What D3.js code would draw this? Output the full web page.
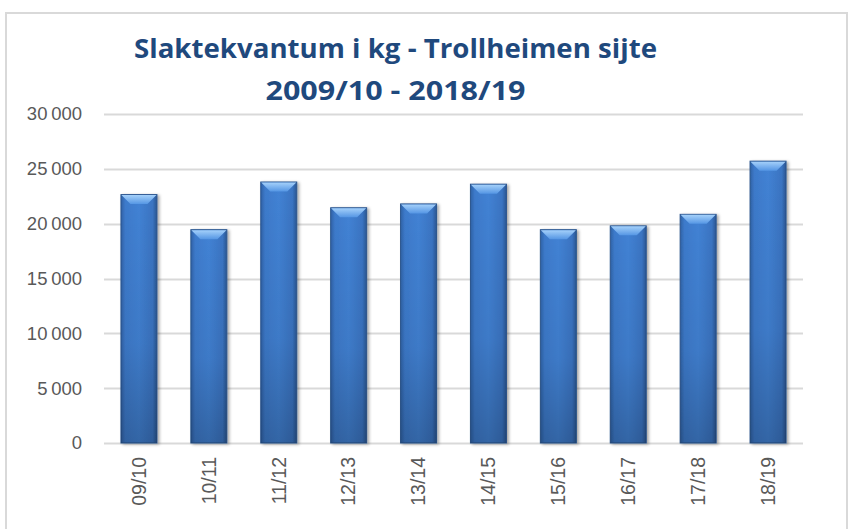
<!DOCTYPE html>
<html>
<head>
<meta charset="utf-8">
<script src="https://cdn.jsdelivr.net/npm/d3@7"></script>
<style>
  body { margin: 0; background: #fff; }
  svg { display: block; }
</style>
</head>
<body>
<svg id="chart"></svg>
<script>
// Slaktekvantum i kg - Trollheimen sijte
const seasons = ['09/10', '10/11', '11/12', '12/13', '13/14', '14/15', '15/16', '16/17', '17/18', '18/19'];
const kilos = [22650, 19450, 23800, 21450, 21800, 23600, 19450, 19800, 20850, 25700];
const yTicks = [0, 5000, 10000, 15000, 20000, 25000, 30000];
const titleLines = ['Slaktekvantum i kg - Trollheimen sijte', '2009/10 - 2018/19'];

const width = 851, height = 529;
const margin = {top: 114, right: 48, bottom: 86, left: 104};

const svg = d3.select('#chart')
    .attr('width', width)
    .attr('height', height);

const locale = d3.formatLocale({decimal: ',', thousands: '\u2009', grouping: [3], currency: ['', ' kr']});
const fmt = locale.format(',d');

// gradients for the bevelled bars
const defs = svg.append('defs');
const body = defs.append('linearGradient').attr('id', 'barBody')
    .attr('x1', 0).attr('x2', 1).attr('y1', 0).attr('y2', 0);
body.append('stop').attr('offset', '0%').attr('stop-color', '#2f62a6');
body.append('stop').attr('offset', '12%').attr('stop-color', '#3d7acb');
body.append('stop').attr('offset', '50%').attr('stop-color', '#4282d4');
body.append('stop').attr('offset', '88%').attr('stop-color', '#3a74c2');
body.append('stop').attr('offset', '100%').attr('stop-color', '#2a5692');

const shade = defs.append('linearGradient').attr('id', 'barShade')
    .attr('x1', 0).attr('x2', 0).attr('y1', 0).attr('y2', 1);
shade.append('stop').attr('offset', '0%').attr('stop-color', '#000').attr('stop-opacity', 0);
shade.append('stop').attr('offset', '60%').attr('stop-color', '#000').attr('stop-opacity', 0.06);
shade.append('stop').attr('offset', '100%').attr('stop-color', '#000').attr('stop-opacity', 0.22);

const bevel = defs.append('linearGradient').attr('id', 'barBevel')
    .attr('x1', 0).attr('x2', 0).attr('y1', 0).attr('y2', 1);
bevel.append('stop').attr('offset', '0%').attr('stop-color', '#a4d0fa');
bevel.append('stop').attr('offset', '100%').attr('stop-color', '#5596e4');

const shadow = defs.append('filter').attr('id', 'barShadow')
    .attr('x', '-30%').attr('y', '-5%').attr('width', '160%').attr('height', '115%');
shadow.append('feDropShadow').attr('dx', 2).attr('dy', 1).attr('stdDeviation', 1.6)
    .attr('flood-color', '#000').attr('flood-opacity', 0.35);

// outer frame
svg.append('rect')
    .attr('x', 6).attr('y', 13)
    .attr('width', 841).attr('height', 520)
    .attr('fill', '#fff')
    .attr('stroke', '#d9d9d9')
    .attr('stroke-width', 2);

const x = d3.scaleBand()
    .domain(seasons)
    .range([margin.left, width - margin.right])
    .paddingInner(0.485)
    .paddingOuter(0.2425);

const y = d3.scaleLinear()
    .domain([0, 30000])
    .range([height - margin.bottom, margin.top]);

// gridlines
svg.append('g')
    .selectAll('line')
    .data(yTicks)
    .join('line')
    .attr('x1', margin.left)
    .attr('x2', width - margin.right)
    .attr('y1', d => Math.round(y(d)) + 0.5)
    .attr('y2', d => Math.round(y(d)) + 0.5)
    .attr('stroke', '#d9d9d9')
    .attr('stroke-width', 2);

// y axis labels
const yAxis = svg.append('g')
    .attr('transform', `translate(${margin.left - 22},0)`)
    .call(d3.axisLeft(y).tickValues(yTicks).tickFormat(d => fmt(d)).tickSize(0).tickPadding(0));
yAxis.select('.domain').remove();
yAxis.selectAll('text')
    .attr('fill', '#595959')
    .style('font-family', 'Liberation Sans, Arial, sans-serif')
    .style('font-size', '18.5px');

// bars
const bars = svg.append('g')
    .selectAll('g')
    .data(seasons.map((s, i) => ({season: s, value: kilos[i]})))
    .join('g');

bars.append('rect')
    .attr('x', d => x(d.season))
    .attr('y', d => y(d.value))
    .attr('width', x.bandwidth())
    .attr('height', d => y(0) - y(d.value))
    .attr('fill', 'url(#barBody)')
    .attr('stroke', '#2b568f')
    .attr('stroke-width', 1)
    .attr('filter', 'url(#barShadow)');

bars.append('rect')
    .attr('x', d => x(d.season))
    .attr('y', d => y(d.value))
    .attr('width', x.bandwidth())
    .attr('height', d => y(0) - y(d.value))
    .attr('fill', 'url(#barShade)');

const bv = 9;
bars.append('path')
    .attr('d', d => {
        const x0 = x(d.season) + 0.5, x1 = x(d.season) + x.bandwidth() - 0.5, y0 = y(d.value) + 0.5;
        return `M${x0},${y0}L${x1},${y0}L${x1 - bv},${y0 + bv}L${x0 + bv},${y0 + bv}Z`;
    })
    .attr('fill', 'url(#barBevel)');

// x axis labels
const xAxis = svg.append('g')
    .attr('transform', `translate(0,${y(0)})`)
    .call(d3.axisBottom(x).tickSize(0).tickPadding(0));
xAxis.select('.domain').remove();
xAxis.selectAll('text')
    .attr('fill', '#595959')
    .style('font-family', 'Liberation Sans, Arial, sans-serif')
    .style('font-size', '19.5px')
    .attr('text-anchor', 'end')
    .attr('dy', '0.35em')
    .attr('transform', 'translate(0,14) rotate(-90)')
    .attr('y', 0)
    .attr('x', 0);

// title
svg.append('g')
    .selectAll('text')
    .data(titleLines)
    .join('text')
    .attr('x', 395.5)
    .attr('y', (d, i) => 58 + i * 42)
    .attr('text-anchor', 'middle')
    .attr('fill', '#1f497d')
    .style('font-family', 'Open Sans, sans-serif')
    .style('font-weight', 'bold')
    .style('font-size', '27px')
    .attr('textLength', (d, i) => i === 0 ? 523 : 260)
    .attr('lengthAdjust', 'spacingAndGlyphs')
    .text(d => d);
</script>
</body>
</html>
